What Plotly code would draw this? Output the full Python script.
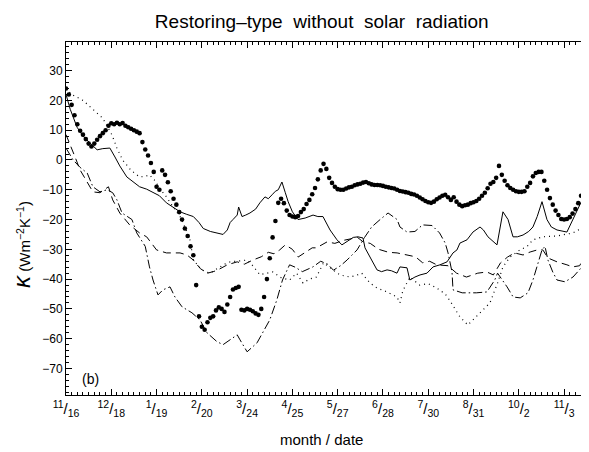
import plotly.graph_objects as go

# x axis: days since 11/16, ticks every 32 days (month/date labels)
tick_days = [0, 32, 64, 96, 128, 160, 192, 224, 256, 288, 320, 352]
tick_labels = ['11/16', '12/18', '1/19', '2/20', '3/24', '4/25',
               '5/27', '6/28', '7/30', '8/31', '10/2', '11/3']

# thick dotted series, sampled every 2 days
days_a = list(range(0, 370, 2))
kappa_a = [24, 22, 18.5, 15, 12, 9.8, 8.5, 7, 5.5, 4.5,
           5.5, 6.8, 8, 9, 10, 11.5, 12.3, 12, 12.5, 12,
           12.4, 11.5, 11, 10.5, 10, 9.5, 9, 6, 3.5, 1.5,
           -1, -4, -9, -10, -3.5, -5, -7.5, -10.5, -13, -15,
           -17.5, -20, -23, -25.5, -29, -32, -42, -52.5, -56, -57,
           -54.5, -53, -52.5, -50.5, -49.5, -50, -51, -48.5, -46, -43.5,
           -43, -42.6, -50.3, -50.5, -50, -50.3, -50.8, -51.5, -52, -50,
           -46, -40, -33, -26, -20.5, -14.4, -13, -14.5, -17, -18.5,
           -19, -19.2, -18.8, -17.5, -16.5, -14.8, -13.4, -11.5, -9.4, -6.5,
           -3.5, -1.3, -3, -6, -7.7, -9, -9.8, -10, -10, -9.6,
           -9.2, -9, -8.5, -8.2, -8, -7.6, -7.4, -7.8, -8.2, -8.4,
           -8.4, -8.5, -8.7, -9, -9.2, -9.4, -9.6, -10, -10.4, -10.6,
           -10.8, -11, -11.4, -11.6, -12, -12.6, -13.2, -13.8, -14.2, -14.4,
           -14, -13.2, -12.6, -12, -11.7, -12.5, -13.4, -12.5, -14, -15,
           -15.5, -15.2, -15, -14.5, -14.2, -13.8, -13, -12, -11, -9.5,
           -8, -7.4, -6, -2, -5, -7, -8.5, -9.4, -10, -10.5,
           -10.7, -10.7, -10.5, -9, -7.7, -5.5, -4.4, -4, -4, -7,
           -10, -12.8, -15, -17, -18.5, -19.8, -20, -19.8, -19.2, -18,
           -16.5, -14.5, -12, -8.5, -6]

# solid line
days_b = [0, 3, 7.8, 12, 17, 22, 26, 31, 34.6, 38, 43, 48, 52, 57, 61.5, 66, 71, 76,
          80.6, 85, 90, 94, 97, 102, 107, 111, 114, 116, 118, 121, 122, 124.4, 127,
          130, 134, 137, 140.6, 143, 145.6, 148, 150, 152.6, 155, 157, 160, 164, 169,
          172, 174.6, 178, 181.6, 186.6, 191.5, 195, 198, 200.7, 203, 206.4, 209.9,
          211.3, 214.8, 219.8, 223, 226.9, 230, 233.9, 236, 241, 243, 246.6, 250.2,
          255.1, 259.4, 264.3, 269.3, 273.5, 276.3, 278.4, 283.4, 287.6, 292.6, 295,
          298.2, 304.6, 308.8, 312.4, 315.9, 319, 323, 327, 330, 333, 336.4, 339.9,
          343, 347, 354, 358.3, 363.3, 366.8, 368.2]
kappa_b = [22, 17, 11, 8, 5.7, 3.4, 3.8, 4, 1, -2, -5.7, -7.5, -9, -9.8, -11, -12,
           -14.4, -16, -17.4, -18.2, -19, -21, -23, -24, -24.5, -25, -23.5, -21, -20,
           -18.5, -15.8, -19, -18.5, -17.8, -16.5, -14.4, -12.4, -13, -11.7, -10.5,
           -10, -7.4, -11, -14, -17.4, -20, -19.5, -19, -18.5, -19, -19, -23.5, -26.8,
           -28.5, -27.5, -26.8, -26, -25.8, -26.2, -29.5, -32.6, -36.9, -37.5, -36.9,
           -37.2, -38, -35.9, -36.2, -40.3, -39.3, -38.6, -38, -35.9, -35.2, -34.2,
           -31.2, -30.2, -27.9, -26.8, -24.2, -22.5, -23.5, -25.8, -28.5, -17.4, -20,
           -25.8, -25.8, -25.2, -24, -22.5, -19, -14, -20, -22.5, -23.5, -24.2, -20,
           -15, -11.7, -10]

# fine dotted line
days_c = [0, 4, 12, 20, 26, 32.5, 36, 40, 46, 52, 56, 59, 63, 66, 71, 76, 80.6, 84,
          87.6, 90, 94.7, 98, 101.8, 105, 108.8, 112, 116, 122, 128, 132, 137, 142,
          146, 152, 158, 163, 167.5, 172, 177, 182, 186.6, 193.6, 200.7, 205, 209,
          214.8, 219.8, 226.9, 233.9, 236, 238, 243, 250, 256, 262, 268, 271, 276,
          278.4, 284, 288, 292.6, 296, 299.6, 305, 308.8, 313.8, 320.8, 326, 330,
          337, 347, 358.3, 364.7, 368.2]
kappa_c = [24, 22, 20, 16.5, 14, 8.4, 4, 0, -3.5, -5.7, -5.5, -5, -7, -9.4, -12.4,
           -16, -19, -22.5, -26.8, -33.6, -36.2, -37.5, -38, -37, -35.9, -35, -34.2,
           -34, -33.6, -35.5, -38.5, -38, -37.6, -39.5, -40.3, -38, -41.3, -40, -39.3,
           -34.5, -36.2, -38.6, -39.3, -38.8, -38, -41.3, -43, -44.3, -46, -48, -44,
           -39.3, -42, -41.5, -43, -45, -47, -51, -52.7, -55.4, -53.5, -51.3, -49.5,
           -48, -41.3, -35.9, -32.6, -30.2, -29, -26.8, -25.8, -25.5, -24.5, -22.8, -21]

# dashed line
days_d = [0, 4, 6.4, 10, 15, 19, 24, 27, 30, 33, 38, 45, 52, 57, 64, 71, 80.6, 85.5,
          90, 95, 100, 104, 107, 114, 121, 126, 132, 138, 143, 147, 151, 155, 160,
          164, 169, 174, 177, 181, 184.5, 190, 196, 201, 206, 210, 215, 221, 228,
          234, 241, 247, 252, 257, 262, 270, 276, 283, 291, 297.5, 302, 307, 312,
          317, 323, 328, 333, 337, 340.6, 347, 354, 358, 363, 367, 368.2]
kappa_d = [8.5, 3.4, 1, -3.4, -7.7, -10.7, -11, -10, -9, -13.4, -17.8, -21.8, -24.5,
           -25.8, -30.2, -31.2, -31.2, -31.9, -33.6, -36.5, -38, -37.5, -37, -35.2,
           -34.2, -35, -33.6, -32.5, -31, -31.5, -30.2, -28.5, -30, -32.6, -31, -29.5,
           -29.5, -28.5, -27.5, -28, -27, -26.5, -26, -27.5, -28, -30, -31, -31.2,
           -32, -32.5, -34.5, -34, -35.2, -35.5, -38, -39.3, -38, -37.6, -38.6, -34.6,
           -32.6, -31.2, -31.9, -30.9, -30.2, -30.2, -32.9, -34.2, -35.2, -35.9,
           -35.5, -31.9, -30]

# dash-dot line
days_e = [0, 5, 10, 15, 19, 24, 29, 33, 36, 39.6, 46.6, 50, 56, 59, 61.5, 65, 68.5,
          73.5, 77, 82, 89, 94.7, 99.6, 106.7, 111, 116, 121, 123, 128, 135, 139,
          144, 149, 153, 158, 162, 167, 174.5, 180, 185, 189, 194, 198.6, 205.7,
          211, 216, 222, 227.6, 234, 236, 241, 246.6, 252, 258.7, 264, 268, 270,
          271.4, 272.8, 273.5, 280, 290, 297.5, 303, 305, 311.7, 316, 321, 326.5,
          330, 333.6, 336.4, 338.5, 340.6, 344, 347, 352.6, 358.3, 364.7, 368.2]
kappa_e = [4, 0, -2.5, -4.4, -9, -10.7, -10, -11, -13.4, -17.8, -20, -24.5, -29,
           -35.9, -40.3, -45.3, -43.6, -42.6, -46, -49.3, -51.3, -53.7, -58, -61,
           -62, -60.4, -58.7, -60.4, -64.4, -61.4, -58, -53.7, -47, -40.3, -35.2,
           -36, -37.5, -35.9, -34, -35, -37, -35.5, -33.6, -30.2, -26, -22.5, -20,
           -17.8, -20, -22.5, -24.2, -24, -21.8, -22, -24.5, -27.9, -31.2, -34.6,
           -37.6, -43.6, -44.6, -44.6, -44.3, -40.3, -38, -42.6, -46, -46.3, -44.6,
           -40.3, -34.6, -30.2, -29, -33.6, -37.6, -40.3, -40.9, -39.3, -35.9, -30.2]

FONT = 'Liberation Sans, Arial, Helvetica, sans-serif'

fig = go.Figure()

fig.add_trace(go.Scatter(x=days_b, y=kappa_b, mode='lines',
                         line=dict(color='black', width=1)))
fig.add_trace(go.Scatter(x=days_c, y=kappa_c, mode='lines',
                         line=dict(color='black', width=1.2, dash='1px,4px')))
fig.add_trace(go.Scatter(x=days_d, y=kappa_d, mode='lines',
                         line=dict(color='black', width=1, dash='8px,5px')))
fig.add_trace(go.Scatter(x=days_e, y=kappa_e, mode='lines',
                         line=dict(color='black', width=1, dash='9px,3px,1.5px,3px')))
fig.add_trace(go.Scatter(x=days_a, y=kappa_a, mode='markers',
                         marker=dict(color='black', size=4.6, line=dict(width=0))))

# month/date labels drawn as diagonal fractions
tick_text = []
for lab in tick_labels:
    m, d = lab.split('/')
    tick_text.append('<sup>' + m + '</sup>/<sub>' + d + '</sub>')

axis_common = dict(showline=True, linecolor='black', linewidth=1, mirror='allticks',
                   ticks='inside', ticklen=6, tickcolor='black', tickwidth=1,
                   showgrid=False, zeroline=False, automargin=False)

# the page body adds 8px on the top and left, so the figure is 8px smaller
fig.update_layout(
    width=581, height=444,
    margin=dict(l=58, r=2, t=34, b=57),
    plot_bgcolor='white', paper_bgcolor='white',
    showlegend=False,
    font=dict(family=FONT, color='black', size=12),
    title=dict(text='Restoring\u2013type\u00a0\u00a0without\u00a0\u00a0solar\u00a0\u00a0radiation',
               x=0.540, xref='container', xanchor='center',
               y=0.971, yref='container', yanchor='middle',
               font=dict(size=19, family=FONT, color='black')),
    xaxis=dict(axis_common, range=[0, 368.2], tickvals=tick_days, ticktext=tick_text,
               tickfont=dict(size=15),
               minor=dict(dtick=4, tick0=0, ticks='inside', ticklen=3,
                          tickcolor='black', showgrid=False)),
    yaxis=dict(axis_common, range=[-78.9, 39.6], tickvals=list(range(-70, 31, 10)),
               tickfont=dict(size=12),
               minor=dict(dtick=2, tick0=0, ticks='inside', ticklen=3,
                          tickcolor='black', showgrid=False)),
)

fig.add_annotation(text='(b)', x=10, y=-73.5, xref='x', yref='y',
                   xanchor='left', yanchor='middle', showarrow=False,
                   font=dict(size=14))
fig.add_annotation(text='month / date', x=0.491, y=-0.127, xref='paper', yref='paper',
                   xanchor='center', yanchor='middle', showarrow=False,
                   font=dict(size=15))
fig.add_annotation(text='<i><span style="font-size:24px">\u03ba</span></i> (Wm<sup>\u22122</sup>K<sup>\u22121</sup>)',
                   x=-0.0845, y=0.428, xref='paper', yref='paper',
                   xanchor='center', yanchor='middle', textangle=-90, showarrow=False,
                   font=dict(size=15))

fig.write_html('out.html')
